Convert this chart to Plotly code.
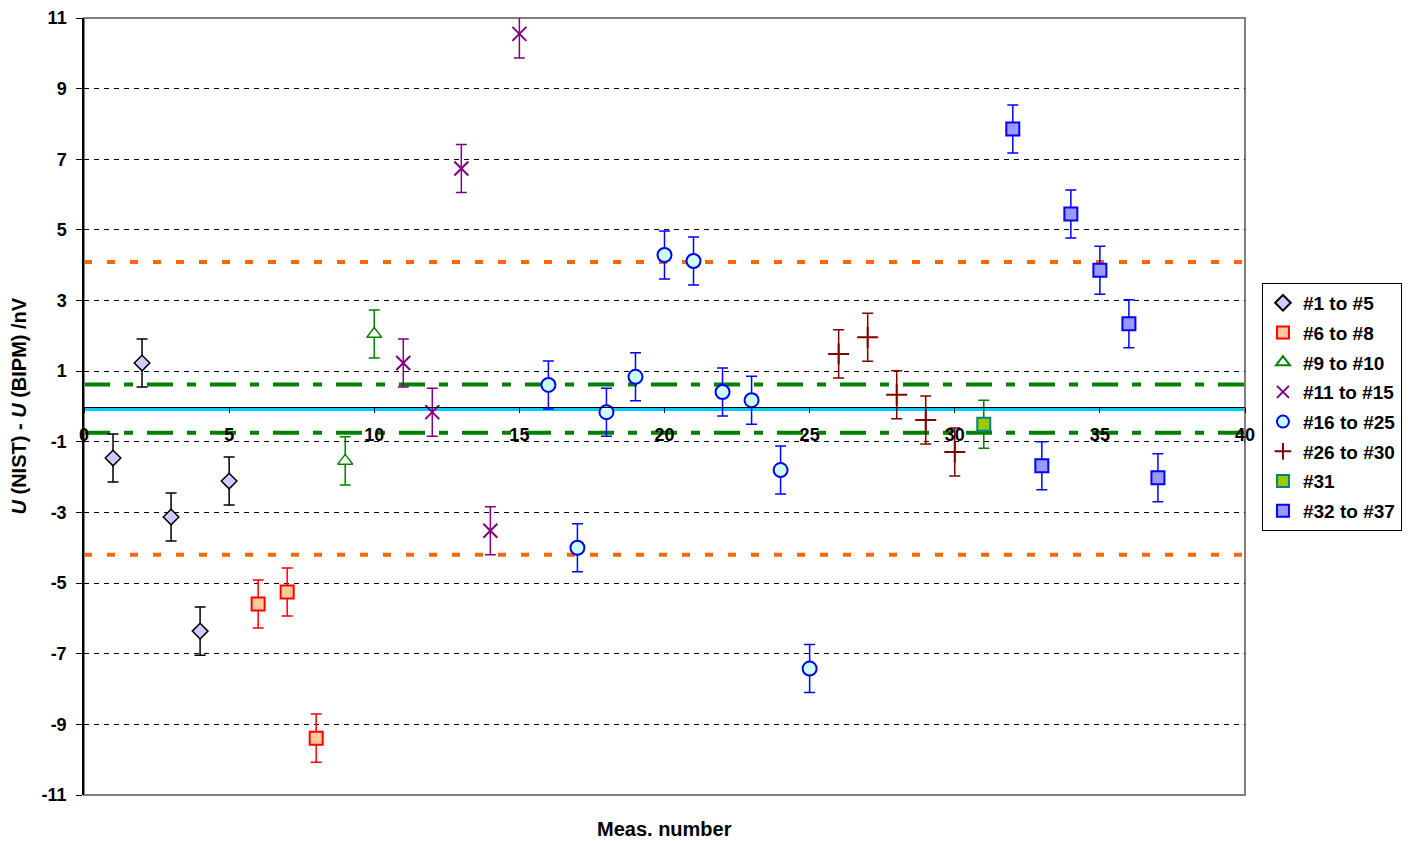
import plotly.graph_objects as go

# ---- data ----
err = 0.68
g1_x = [1, 2, 3, 4, 5]
g1_y = [-1.46, 1.23, -3.13, -6.36, -2.11]
g2_x = [6, 7, 8]
g2_y = [-5.59, -5.25, -9.39]
g3_x = [9, 10]
g3_y = [-1.54, 2.05]
g4_x = [11, 12, 13, 14, 15]
g4_y = [1.23, -0.16, 6.74, -3.52, 10.55]
g5_x = [16, 17, 18, 19, 20, 21, 22, 23, 24, 25]
g5_y = [0.61, -4.0, -0.16, 0.84, 4.29, 4.12, 0.41, 0.18, -1.8, -7.42]
g6_x = [26, 27, 28, 29, 30]
g6_y = [1.49, 1.96, 0.33, -0.38, -1.29]
g7_x = [31]
g7_y = [-0.5]
g8_x = [32, 33, 34, 35, 36, 37]
g8_y = [7.86, -1.68, 5.45, 3.86, 2.34, -2.02]

orange_lines = [4.09, -4.2]
green_lines = [0.62, -0.74]
cyan_line = [-0.07]

x_ticks = [0, 5, 10, 15, 20, 25, 30, 35, 40]
x_ticktext = ["0", "5", "10", "15", "20", "25", "30", "35", "40"]
y_ticks = [-11, -9, -7, -5, -3, -1, 1, 3, 5, 7, 9, 11]
y_ticktext = ["-11", "-9", "-7", "-5", "-3", "-1", "1", "3", "5", "7", "9", "11"]

FONT = "Liberation Sans, Arial, sans-serif"

groups = [
    ("#1 to #5", g1_x, g1_y, "diamond", 12, "#CCCCFF", "#000000", 1.5, "#000000"),
    ("#6 to #8", g2_x, g2_y, "square", 13, "#FFCC99", "#FF0000", 2, "#FF0000"),
    ("#9 to #10", g3_x, g3_y, "triangle-up", 13, "#FFFFFF", "#008000", 1.5, "#008000"),
    ("#11 to #15", g4_x, g4_y, "x-thin", 14, "#800080", "#800080", 2, "#800080"),
    ("#16 to #25", g5_x, g5_y, "circle", 14, "#CCFFFF", "#0000FF", 2, "#0000FF"),
    ("#26 to #30", g6_x, g6_y, "cross-thin", 15, "#800000", "#800000", 2, "#800000"),
    ("#31", g7_x, g7_y, "square", 13, "#99CC00", "#008080", 2, "#008000"),
    ("#32 to #37", g8_x, g8_y, "square", 13, "#9999FF", "#0000FF", 2, "#0000FF"),
]

fig = go.Figure()
for i, (name, xs, ys, sym, size, fill, outline, lw, ecol) in enumerate(groups):
    fig.add_trace(go.Scatter(
        x=xs, y=ys, mode="markers", name=name, legendgroup=str(i),
        marker=dict(symbol=sym, size=size, color=fill,
                    line=dict(color=outline, width=lw)),
        error_y=dict(type="constant", value=err, color=ecol,
                     thickness=1.5, width=5.5),
    ))

shapes = []
for v in orange_lines:
    shapes.append(dict(type="line", xref="paper", x0=0, x1=1, yref="y", y0=v, y1=v,
                       line=dict(color="#FF6600", width=4, dash="8px,15px"), layer="below"))
for v in green_lines:
    shapes.append(dict(type="line", xref="paper", x0=0, x1=1, yref="y", y0=v, y1=v,
                       line=dict(color="#008000", width=4, dash="26px,14px,9px,14px"), layer="below"))
for v in cyan_line:
    shapes.append(dict(type="line", xref="paper", x0=0, x1=1, yref="y", y0=v, y1=v,
                       line=dict(color="#00CCFF", width=4), layer="below"))
shapes.append(dict(type="rect", xref="paper", yref="paper", x0=0, x1=1, y0=0, y1=1,
                   line=dict(color="#808080", width=2), layer="below"))

fig.update_layout(
    width=1410, height=841,
    margin=dict(l=84, r=165, t=18, b=46, autoexpand=False),
    paper_bgcolor="white", plot_bgcolor="white",
    font=dict(family=FONT, size=18, color="#000000"),
    shapes=shapes,
    showlegend=True,
    legend=dict(x=1.0146, y=0.659, xanchor="left", yanchor="top",
                bordercolor="#000000", borderwidth=1,
                font=dict(family=FONT, size=19, color="#000000", weight="bold"),
                tracegroupgap=2, itemsizing="constant", itemwidth=30),
    xaxis=dict(range=[0, 40], tickvals=x_ticks, ticktext=x_ticktext,
               anchor="free", position=0.5,
               showline=True, linecolor="#000000", linewidth=1,
               ticks="outside", ticklen=5, tickcolor="#000000",
               ticklabelstandoff=7, showgrid=False, zeroline=False,
               tickfont=dict(family=FONT, size=18, weight="bold")),
    yaxis=dict(range=[-11, 11], tickvals=y_ticks, ticktext=y_ticktext, domain=[0, 1],
               showline=True, linecolor="#000000", linewidth=1.5,
               ticks="outside", ticklen=6, tickcolor="#000000",
               ticklabelstandoff=6,
               showgrid=True, gridcolor="#000000", gridwidth=1, griddash="5px,5px",
               zeroline=False,
               tickfont=dict(family=FONT, size=18, weight="bold")),
    annotations=[
        dict(text="<b>Meas. number</b>", xref="paper", yref="paper", x=0.5, y=0,
             yshift=-34, xanchor="center", yanchor="middle", showarrow=False,
             font=dict(family=FONT, size=20)),
        dict(text="<b><i>U</i> (NIST) - <i>U</i> (BIPM) /nV</b>", xref="paper", yref="paper",
             x=0, y=0.5, xshift=-66, xanchor="center", yanchor="middle",
             textangle=-90, showarrow=False, font=dict(family=FONT, size=20)),
    ],
)

fig.write_html("out.html")
